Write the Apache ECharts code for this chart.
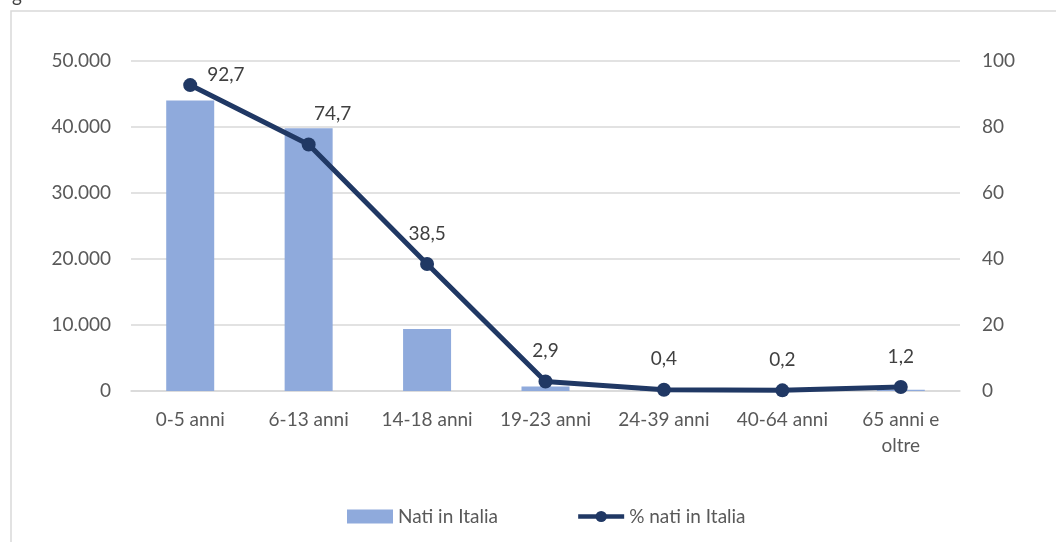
<!DOCTYPE html>
<html><head><meta charset="utf-8">
<script src="https://cdn.jsdelivr.net/npm/echarts@6/dist/echarts.min.js"></script>
<style>html,body{margin:0;padding:0;background:#fff}#c{width:1056px;height:542px}</style>
</head><body><div id="c"></div>
<script>
const categories = ["0-5 anni","6-13 anni","14-18 anni","19-23 anni","24-39 anni","40-64 anni","65 anni e\noltre"];
const natiInItalia = [44000, 39800, 9400, 700, 250, 120, 180];
const percNatiInItalia = [92.7, 74.7, 38.5, 2.9, 0.4, 0.2, 1.2];
const leftTicks = {min:0, max:50000, interval:10000};
const rightTicks = {min:0, max:100, interval:20};

const FONT = 'Lato';
const TXT = '#595959';
const NAVY = '#203864';
const labelOverrides = {0:{position:'right', distance:5, offset:[5,-10]}, 1:{offset:[24,0]}};
const chart = echarts.init(document.getElementById('c'));
chart.setOption({
  animation:false,
  textStyle:{fontFamily:FONT},
  graphic:[
    {type:'rect', shape:{x:11,y:11,width:1200,height:700}, style:{fill:'none', stroke:'#d9d9d9', lineWidth:1.5}, silent:true},
    {type:'text', left:12, top:-14, style:{text:'g', fontSize:19, fontFamily:FONT, fill:'#404040'}}
  ],
  legend:{
    bottom:11, left:342,
    itemGap:78, itemWidth:46, itemHeight:14,
    textStyle:{color:TXT, fontSize:19, fontFamily:FONT},
    data:[{name:'Nati in Italia', icon:'rect'},
          {name:'% nati in Italia', lineStyle:{width:4.5, color:NAVY}}]
  },
  grid:{left:131, right:96, top:61, bottom:151, containLabel:false},
  xAxis:{
    type:'category', data:categories,
    axisLine:{lineStyle:{color:'#d9d9d9', width:1.5}},
    axisTick:{show:false},
    axisLabel:{color:TXT, fontSize:19, margin:16, lineHeight:26, interval:0}
  },
  yAxis:[
    {type:'value', min:leftTicks.min, max:leftTicks.max, interval:leftTicks.interval,
     axisLine:{show:false}, axisTick:{show:false},
     splitLine:{lineStyle:{color:'#d9d9d9', width:1.5}},
     axisLabel:{color:TXT, fontSize:19, margin:20,
       formatter:v=>v===0?'0':v.toLocaleString('de-DE')}},
    {type:'value', min:rightTicks.min, max:rightTicks.max, interval:rightTicks.interval,
     axisLine:{show:false}, axisTick:{show:false}, splitLine:{show:false},
     axisLabel:{color:TXT, fontSize:19, margin:22}}
  ],
  series:[
    {name:'Nati in Italia', type:'bar', yAxisIndex:0, data:natiInItalia,
     barWidth:48, itemStyle:{color:'#8faadc'}},
    {name:'% nati in Italia', type:'line', yAxisIndex:1,
     data:percNatiInItalia.map((v,i)=> labelOverrides[i] ? {value:v, label:labelOverrides[i]} : {value:v}),
     symbol:'circle', symbolSize:14,
     lineStyle:{color:NAVY, width:5},
     itemStyle:{color:NAVY},
     label:{show:true, position:'top', distance:14, color:'#404040', fontSize:19,
       formatter:p=>String(p.value).replace('.',',')}}
  ]
});
</script></body></html>
